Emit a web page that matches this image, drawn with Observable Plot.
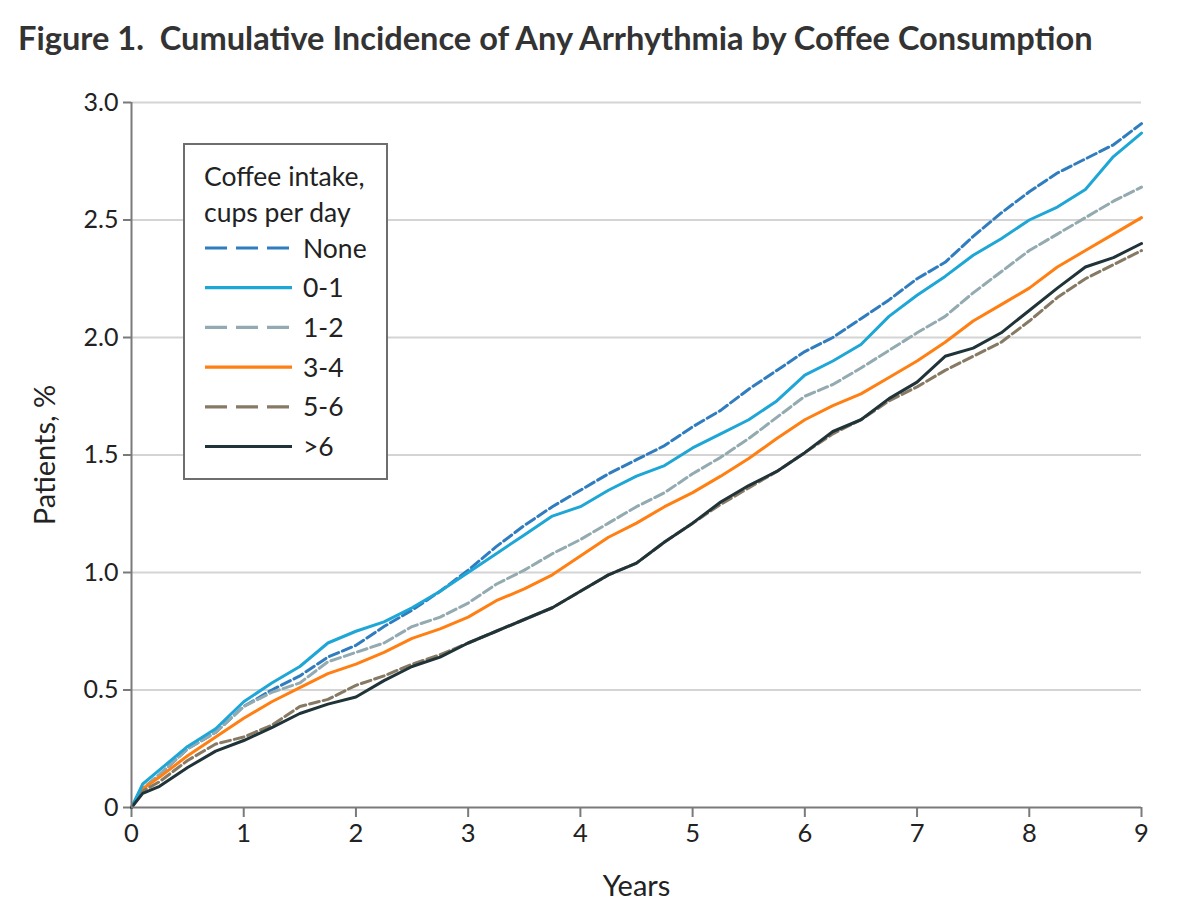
<!DOCTYPE html>
<html>
<head>
<meta charset="utf-8">
<script src="https://cdn.jsdelivr.net/npm/d3@7"></script>
<script src="https://cdn.jsdelivr.net/npm/@observablehq/plot@0.6"></script>
<style>
  body { margin: 0; background: #fff; }
  #wrap { position: relative; width: 1198px; height: 920px; font-family: Lato, "Open Sans", sans-serif; color: #222; overflow: hidden; }
  #title { position: absolute; left: 18px; top: 18px; font-weight: bold; font-size: 32.6px; color: #333; white-space: pre; }
  #chart { position: absolute; left: 0; top: 70px; }
  #legend { position: absolute; left: 183px; top: 143px; }
</style>
</head>
<body>
<div id="wrap">
  <div id="title">Figure 1.  Cumulative Incidence of Any Arrhythmia by Coffee Consumption</div>
  <div id="chart"></div>
  <svg id="legend" width="206" height="338"></svg>
</div>
<script>
// ---- data ----
const years = [0, 0.1, 0.25, 0.5, 0.75, 1, 1.25, 1.5, 1.75, 2, 2.25, 2.5, 2.75, 3, 3.25, 3.5, 3.75, 4, 4.25, 4.5, 4.75, 5, 5.25, 5.5, 5.75, 6, 6.25, 6.5, 6.75, 7, 7.25, 7.5, 7.75, 8, 8.25, 8.5, 8.75, 9];
const categories = ["None", "0-1", "1-2", "3-4", "5-6", ">6"];
const seriesNone = [0, 0.08, 0.14, 0.25, 0.32, 0.43, 0.50, 0.56, 0.64, 0.69, 0.77, 0.84, 0.92, 1.01, 1.11, 1.20, 1.28, 1.35, 1.42, 1.48, 1.54, 1.62, 1.69, 1.78, 1.86, 1.94, 2.00, 2.08, 2.16, 2.25, 2.32, 2.43, 2.53, 2.62, 2.70, 2.76, 2.82, 2.91];
const series01 = [0, 0.10, 0.16, 0.26, 0.335, 0.45, 0.53, 0.60, 0.70, 0.75, 0.79, 0.85, 0.92, 1.00, 1.08, 1.16, 1.24, 1.28, 1.35, 1.41, 1.455, 1.53, 1.59, 1.65, 1.73, 1.84, 1.90, 1.97, 2.09, 2.18, 2.26, 2.35, 2.42, 2.50, 2.555, 2.63, 2.77, 2.87];
const series12 = [0, 0.08, 0.14, 0.25, 0.32, 0.43, 0.49, 0.53, 0.62, 0.66, 0.70, 0.77, 0.81, 0.87, 0.95, 1.01, 1.08, 1.14, 1.21, 1.28, 1.34, 1.42, 1.49, 1.57, 1.66, 1.75, 1.80, 1.87, 1.945, 2.02, 2.09, 2.19, 2.28, 2.37, 2.44, 2.51, 2.58, 2.64];
const series34 = [0, 0.08, 0.13, 0.22, 0.30, 0.38, 0.45, 0.51, 0.57, 0.61, 0.66, 0.72, 0.76, 0.81, 0.88, 0.93, 0.99, 1.07, 1.15, 1.21, 1.28, 1.34, 1.41, 1.485, 1.57, 1.65, 1.71, 1.76, 1.83, 1.90, 1.98, 2.07, 2.14, 2.21, 2.30, 2.37, 2.44, 2.51];
const series56 = [0, 0.07, 0.11, 0.20, 0.27, 0.30, 0.35, 0.43, 0.46, 0.52, 0.56, 0.61, 0.65, 0.70, 0.75, 0.80, 0.85, 0.92, 0.99, 1.04, 1.13, 1.21, 1.29, 1.36, 1.43, 1.51, 1.59, 1.65, 1.73, 1.79, 1.86, 1.92, 1.98, 2.07, 2.17, 2.25, 2.31, 2.37];
const seriesGt6 = [0, 0.06, 0.09, 0.17, 0.24, 0.285, 0.34, 0.40, 0.44, 0.47, 0.54, 0.60, 0.64, 0.70, 0.75, 0.80, 0.85, 0.92, 0.99, 1.04, 1.13, 1.21, 1.30, 1.37, 1.43, 1.51, 1.60, 1.65, 1.74, 1.81, 1.92, 1.955, 2.02, 2.115, 2.21, 2.30, 2.34, 2.40];
const xTicks = [0, 1, 2, 3, 4, 5, 6, 7, 8, 9];
const yTicks = [0, 0.5, 1.0, 1.5, 2.0, 2.5, 3.0];
const legendTitle = ["Coffee intake,", "cups per day"];

// ---- styles ----
const colors = {"None": "#2f7dbf", "0-1": "#1ea6d6", "1-2": "#93aab1", "3-4": "#ff7f12", "5-6": "#877a65", ">6": "#1f3338"};
const dashes = {"None": "10,4", "0-1": null, "1-2": "10,4", "3-4": null, "5-6": "10,4", ">6": null};
const legendDashes = {"None": "22,9", "0-1": null, "1-2": "22,9", "3-4": null, "5-6": "22,9", ">6": null};

const seriesValues = {"None": seriesNone, "0-1": series01, "1-2": series12, "3-4": series34, "5-6": series56, ">6": seriesGt6};
const rows = categories.flatMap(c => years.map((t, i) => ({group: c, year: t, value: seriesValues[c][i]})));

const drawOrder = ["None", "1-2", "3-4", "5-6", "0-1", ">6"];
const axisColor = "#7a7a7a";
const font = "Lato, 'Open Sans', sans-serif";

const plot = Plot.plot({
  width: 1198,
  height: 850,
  marginTop: 32,
  marginLeft: 131,
  marginRight: 57,
  marginBottom: 113,
  style: {fontFamily: font, fontSize: "25px", color: "#222", background: "transparent"},
  x: {domain: [0, 9]},
  y: {domain: [0, 3]},
  marks: [
    Plot.gridY(yTicks.slice(1), {stroke: "#d4d4d4", strokeOpacity: 1, strokeWidth: 2}),
    Plot.axisY(yTicks, {tickFormat: d => d === 0 ? "0" : d.toFixed(1), tickSize: 8, tickPadding: 5, stroke: axisColor, strokeWidth: 2, label: null, fontSize: 25}),
    Plot.axisX(xTicks, {tickFormat: d => String(d), tickSize: 10, tickPadding: 6, stroke: axisColor, strokeWidth: 2, label: null, fontSize: 25.5}),
    ...drawOrder.map(c => Plot.line(rows.filter(d => d.group === c), {
      x: "year", y: "value", stroke: colors[c], strokeWidth: 3,
      strokeDasharray: dashes[c] || undefined, curve: "linear"
    })),
    Plot.ruleX([0], {stroke: axisColor, strokeWidth: 2}),
    Plot.ruleY([0], {stroke: axisColor, strokeWidth: 2}),
    Plot.text(["Patients, %"], {frameAnchor: "left", textAnchor: "middle", lineAnchor: "middle", rotate: -90, dx: -86, fontSize: 29, fill: "#222"}),
    Plot.text(["Years"], {frameAnchor: "bottom", textAnchor: "middle", lineAnchor: "middle", dy: 79, fontSize: 29, fill: "#222"})
  ]
});
document.getElementById("chart").appendChild(plot);

// ---- legend ----
const lg = d3.select("#legend");
lg.append("rect").attr("x", 1).attr("y", 1).attr("width", 203).attr("height", 335)
  .attr("fill", "#fff").attr("stroke", "#6e6e6e").attr("stroke-width", 2);
legendTitle.forEach((s, i) => {
  lg.append("text").attr("x", 21).attr("y", 43 + i * 36).text(s)
    .attr("font-size", 26.5).attr("fill", "#222").attr("font-family", font);
});
categories.forEach((c, i) => {
  const y = 105 + i * 39.7;
  lg.append("line").attr("x1", 22).attr("x2", 109).attr("y1", y).attr("y2", y)
    .attr("stroke", colors[c]).attr("stroke-width", 3.2)
    .attr("stroke-dasharray", legendDashes[c] || null);
  lg.append("text").attr("x", 120).attr("y", y).attr("dy", "0.36em").text(c)
    .attr("font-size", 26.5).attr("fill", "#222").attr("font-family", font);
});
</script>
</body>
</html>
